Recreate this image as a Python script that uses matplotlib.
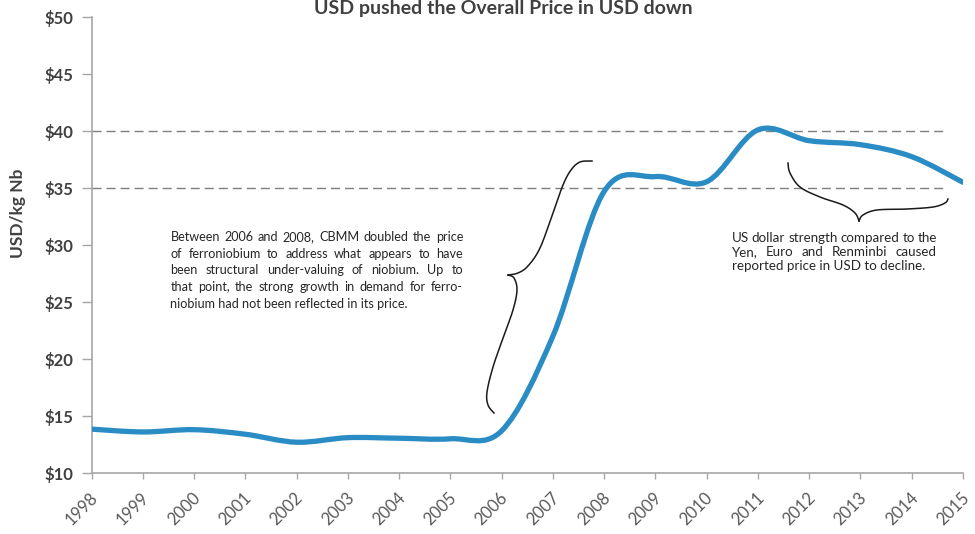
import numpy as np
import matplotlib
matplotlib.use("Agg")
import matplotlib.pyplot as plt
from matplotlib.path import Path
from matplotlib.patches import PathPatch
from matplotlib.transforms import ScaledTranslation

# ---------------- data ----------------
years = list(range(1998, 2016))
price = [13.85, 13.6, 13.8, 13.4, 12.7, 13.1, 13.05, 13.0, 13.7, 22.0,
         34.7, 36.0, 35.55, 40.1, 39.15, 38.8, 37.75, 35.5]
ref_levels = [40, 35]
ytick_vals = [10, 15, 20, 25, 30, 35, 40, 45, 50]
ytick_labels = ["$10", "$15", "$20", "$25", "$30", "$35", "$40", "$45", "$50"]
title = "USD pushed the Overall Price in USD down"
ylabel = "USD/kg Nb"
left_note = ["Between 2006 and 2008, CBMM doubled the price",
             "of ferroniobium to address what appears to have",
             "been structural under-valuing of niobium. Up to",
             "that point, the strong growth in demand for ferro-",
             "niobium had not been reflected in its price."]
right_note = ["US dollar strength compared to the",
              "Yen, Euro and Renminbi caused",
              "reported price in USD to decline."]

plt.rcParams['font.family'] = ['Lato', 'DejaVu Sans']

W, H = 975, 534
fig = plt.figure(figsize=(W / 100, H / 100), dpi=100)
fig.patch.set_facecolor("white")


def fx(px):
    return px / W


def fy(py):
    return 1 - py / H


ax = fig.add_axes([fx(91.5), fy(473), fx(963) - fx(91.5), fy(17) - fy(473)])

# smooth line (Excel-like bezier through the points)
pts = np.column_stack([years, price]).astype(float)
n = len(pts)
verts = [tuple(pts[0])]
codes = [Path.MOVETO]
for i in range(n - 1):
    p0 = pts[i - 1] if i > 0 else pts[i]
    p1 = pts[i]
    p2 = pts[i + 1]
    p3 = pts[i + 2] if i + 2 < n else pts[i + 1]
    c1 = p1 + (p2 - p0) / 6.0
    c2 = p2 - (p3 - p1) / 6.0
    verts += [tuple(c1), tuple(c2), tuple(p2)]
    codes += [Path.CURVE4] * 3
line_color = "#2a8cc4"
ax.add_patch(PathPatch(Path(verts, codes), facecolor="none", edgecolor=line_color,
                       lw=3.8, capstyle="round", joinstyle="round", zorder=3))

# reference dashed lines
for lv in ref_levels:
    ax.plot([years[0], 2014.66], [lv, lv], color="#7f7f7f", lw=1.0,
            dashes=(6.5, 3.6), zorder=2)

ax.set_xlim(years[0], years[-1])
ax.set_ylim(10, 50)
ax.set_yticks(ytick_vals)
ax.set_yticklabels(ytick_labels)
ax.set_xticks(years)
ax.set_xticklabels([str(y) for y in years], rotation=45, ha="right",
                   va="top", rotation_mode="anchor")

for s in ["top", "right"]:
    ax.spines[s].set_visible(False)
for s in ["left", "bottom"]:
    ax.spines[s].set_color("#a6a6a6")
    ax.spines[s].set_linewidth(1.2)
ax.tick_params(axis="y", length=7, width=1.0, color="#a6a6a6", pad=6,
               labelsize=12, labelcolor="#404040")
ax.tick_params(axis="x", length=4, width=1.0, color="#a6a6a6", pad=8,
               labelsize=12, labelcolor="#595959")
for lab in ax.get_yticklabels():
    lab.set_fontweight("bold")
shift = ScaledTranslation(-2 / 100, 0, fig.dpi_scale_trans)
for lab in ax.get_xticklabels():
    lab.set_transform(lab.get_transform() + shift)

fig.text(fx(18), fy(213), ylabel, rotation=90, ha="center", va="center",
         fontsize=12.5, fontweight="bold", color="#404040")
fig.text(fx(503), fy(14), title, ha="center", va="baseline",
         fontsize=14, fontweight="bold", color="#404040")

renderer = fig.canvas.get_renderer()


def justified(lines, x0, x1, ytop, dy, fs, color="#262626"):
    for i, line in enumerate(lines):
        yy = fy(ytop + i * dy)
        words = line.split()
        if i == len(lines) - 1 or len(words) < 2:
            fig.text(fx(x0), yy, line, ha="left", va="center", fontsize=fs, color=color)
            continue
        widths = []
        objs = []
        for w in words:
            t = fig.text(0, yy, w, ha="left", va="center", fontsize=fs, color=color)
            widths.append(t.get_window_extent(renderer).width)
            objs.append(t)
        gap = ((x1 - x0) - sum(widths)) / (len(words) - 1)
        x = x0
        for t, w in zip(objs, widths):
            t.set_x(fx(x))
            x += w + gap


justified(left_note, 170.5, 463, 237, 16.7, 9.1)
justified(right_note, 731.5, 937, 237.5, 14.2, 9.6)


def catmull(points, steps=20):
    P = np.array(points, dtype=float)
    P = np.vstack([P[0], P, P[-1]])
    out = []
    for i in range(1, len(P) - 2):
        p0, p1, p2, p3 = P[i - 1], P[i], P[i + 1], P[i + 2]
        for t in np.linspace(0, 1, steps, endpoint=False):
            t2, t3 = t * t, t * t * t
            out.append(0.5 * ((2 * p1) + (-p0 + p2) * t +
                              (2 * p0 - 5 * p1 + 4 * p2 - p3) * t2 +
                              (-p0 + 3 * p1 - 3 * p2 + p3) * t3))
    out.append(P[-2])
    return np.array(out)


braces = [
    [(592, 161), (580, 162), (571, 170), (563, 185), (553, 213), (540, 248),
     (528, 266), (518, 273), (508, 275)],
    [(508, 275), (514, 278), (517, 290), (513, 310), (503, 338), (493, 367),
     (487, 392), (488, 405), (494, 413)],
    [(788, 163), (790, 173), (800, 187), (820, 197), (843, 205), (855, 213),
     (859, 221)],
    [(859, 221), (863, 215), (877, 210), (907, 209), (933, 207), (945, 203),
     (948, 199)],
]
for b in braces:
    c = catmull(b)
    fig.add_artist(plt.Line2D(fx(c[:, 0]), fy(c[:, 1]), color="#1a1a1a", lw=1.1,
                              transform=fig.transFigure))

fig.savefig("out.png", dpi=100, facecolor="white")
